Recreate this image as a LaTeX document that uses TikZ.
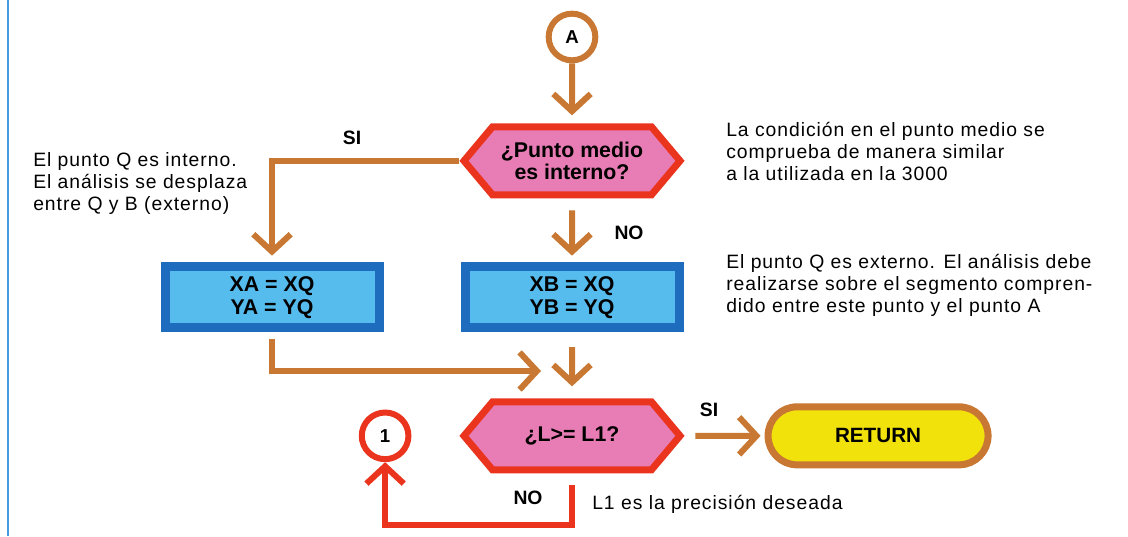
\documentclass[tikz,border=0pt]{standalone}
\usepackage{fontspec}
\setmainfont{Liberation Sans}
\newfontfamily\notefont[LetterSpace=5]{Liberation Sans}
\usetikzlibrary{positioning,arrows.meta,shapes.symbols}
\definecolor{flowbrown}{RGB}{200,120,50}
\definecolor{flowred}{RGB}{234,52,30}
\definecolor{flowpink}{RGB}{232,125,182}
\definecolor{flowblue}{RGB}{30,108,190}
\definecolor{flowsky}{RGB}{86,188,238}
\definecolor{flowyellow}{RGB}{242,226,12}
\definecolor{railblue}{RGB}{70,155,222}

\begin{document}
\begin{tikzpicture}[x=0.75pt, y=-0.75pt,
        hub/.style={circle, line width=4.5pt, fill=white, minimum size=35pt, inner sep=0pt, font=\fontsize{14}{16}\selectfont\bfseries},
        test/.style={signal, signal to=east and west, signal pointer angle=100, draw=flowred, line width=5.25pt, fill=flowpink, minimum width=162pt, minimum height=51pt, align=center, inner sep=0pt, font=\fontsize{16}{16.5}\selectfont\bfseries},
        setbox/.style={rectangle, draw=flowblue, line width=6.75pt, fill=flowsky, minimum width=160.5pt, minimum height=45.75pt, align=center, inner sep=0pt, font=\fontsize{16}{17}\selectfont\bfseries},
        endbox/.style={rectangle, rounded corners=21.75pt, draw=flowbrown, line width=5.25pt, fill=flowyellow, minimum width=165pt, minimum height=43.5pt, inner sep=0pt, font=\fontsize{15.5}{17}\selectfont\bfseries},
        note/.style={align=left, inner sep=0pt, anchor=west, font=\notefont\fontsize{14.5}{16.5}\selectfont},
        tag/.style={inner sep=0pt, font=\fontsize{14.5}{16}\selectfont\bfseries},
        flow/.style={line width=4.5pt, draw=flowbrown, -{Straight Barb[length=13pt, width=28pt]}},
        loopback/.style={line width=4.5pt, draw=flowred, -{Straight Barb[length=13pt, width=28pt]}}
    ]
        \useasboundingbox (0,0) rectangle (1128,536);
        \draw[railblue, line width=1.5pt] (8,0) -- (8,536);

        \node[hub, draw=flowbrown] (ina) at (572,37) {A};
        \node[test, below=45pt of ina] (qmid) {¿Punto medio\\es interno?};
        \node[setbox, below=48pt of qmid] (setb) {XB = XQ\\YB = YQ};
        \node[setbox, left=57.75pt of setb] (seta) {XA = XQ\\YA = YQ};
        \node[test, below=49.5pt of setb] (qend) {¿L>= L1?};
        \node[endbox, right=60pt of qend] (ret) {RETURN};
        \node[hub, draw=flowred, left=36pt of qend] (back) {1};
        \coordinate (join) at (541,371);

        \draw[flow, shorten >=6pt] (ina) -- (qmid);
        \draw[flow, shorten >=5pt] (qmid.west) -| (seta.north);
        \draw[flow, shorten <=9pt, shorten >=5pt] (qmid) -- (setb);
        \draw[flow, shorten <=5pt] (seta.south) |- (join);
        \draw[flow, shorten <=11pt, shorten >=9pt] (setb) -- (qend);
        \draw[flow, shorten <=8pt, shorten >=3pt] (qend) -- (ret);
        \draw[loopback, shorten <=9pt] (qend.south) -- ++(0,52) -| (back.south);

        \node[tag] (sitop) at (352,138) {SI};
        \node[tag] (nomid) at (629,233) {NO};
        \node[tag] (sibot) at (709,410) {SI};
        \node[tag] (nobot) at (528,498) {NO};

        \node[note] (noteq) at (33,183) {El punto Q es interno.\\El análisis se desplaza\\entre Q y B (externo)};
        \node[note] (notemid) at (726,151) {La condición en el punto medio se\\comprueba de manera similar\\a la utilizada en la 3000};
        \node[note] (noteext) at (726,285) {El punto Q es externo. El análisis debe\\realizarse sobre el segmento compren-\\dido entre este punto y el punto A};
        \node[note] (notel) at (592,504) {L1 es la precisión deseada};
    \end{tikzpicture}
\end{document}
